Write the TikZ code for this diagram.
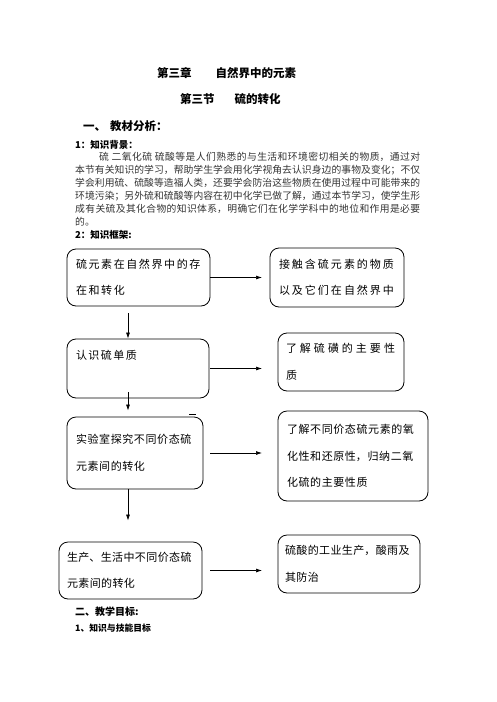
\documentclass[tikz,border=0pt]{standalone}
\usepackage{fontspec}
\setmainfont{Noto Sans CJK SC}
\usepackage{tikz}
\usetikzlibrary{arrows.meta}
\newcommand\zhbreak{\XeTeXlinebreaklocale "zh"\XeTeXlinebreakskip=0pt plus 1pt\relax}
\newcommand\zhgap[1]{\XeTeXlinebreaklocale "zh"\XeTeXlinebreakskip=#1pt\relax}

\tikzset{
  head/.style={inner sep=0pt, anchor=west, font=\bfseries\fontsize{#1}{#1}\selectfont},
  para/.style={inner sep=0pt, anchor=north west, text width=345pt, align=justify, text=black!80,
    font=\fontsize{9.8}{13}\selectfont\zhbreak},
  frame/.style={draw, line width=0.8pt, rounded corners=9pt, inner xsep=9pt, inner ysep=0pt, align=left,
    font=\fontsize{11}{26.5}\selectfont\zhgap{#1}},
  frame/.default=0.5,
  arr/.style={-{Latex[length=6pt,width=4pt]}, line width=0.7pt}
}

\begin{document}
\begin{tikzpicture}[x=1pt,y=-1pt]
\useasboundingbox (0,0) rectangle (496,702);
\node[head=11.5] (chapter) at (157,73) {第三章\hspace{24pt}自然界中的元素};
\node[head=11.5] (section) at (180,99) {第三节\hspace{20pt}硫的转化};
\node[head=11.5] (analysis) at (83,126) {一、\hspace{4pt}教材分析：};
\node[head=9.5] (background) at (75,145) {1：知识背景：};
\node[para] (text) at (75,152) {\hspace*{24pt}硫 二氧化硫 硫酸等是人们熟悉的与生活和环境密切相关的物质，通过对\linebreak
本节有关知识的学习，帮助学生学会用化学视角去认识身边的事物及变化；不仅\linebreak
学会利用硫、硫酸等造福人类，还要学会防治这些物质在使用过程中可能带来的\linebreak
环境污染；另外硫和硫酸等内容在初中化学已做了解，通过本节学习，使学生形\linebreak
成有关硫及其化合物的知识体系，明确它们在化学学科中的地位和作用是必要\linebreak
的。};
\node[head=9.5] (framework) at (75,235) {2：知识框架:};

% left column
\node[frame=1.6, text width=125pt, minimum height=57pt] (exist) at (138.5,277.5) {硫元素在自然界中的存\\在和转化};
\node[frame=1.5, text width=124pt, minimum height=59pt] (element) at (138,368.5) {认识硫单质\\\mbox{}};
\node[frame=0.6, text width=118pt, minimum height=72pt] (lab) at (135,453) {实验室探究不同价态硫\\元素间的转化};
\node[frame=0.4, inner xsep=8pt, text width=127pt, minimum height=57pt] (life) at (130.5,570.5) {生产、生活中不同价态硫\\元素间的转化};
\draw[line width=0.6pt] (189,414) -- (196,414);
% right column
\node[frame=2, text width=116pt, minimum height=59pt] (contact) at (337,277.5) {接触含硫元素的物质\\以及它们在自然界中};
\node[frame=3, inner xsep=8pt, text width=110pt, minimum height=58pt] (sulfur) at (341,362) {了解硫磺的主要性\\质};
\node[frame=0.6, text width=132pt, minimum height=90pt] (redox) at (353,456) {了解不同价态硫元素的氧\\化性和还原性，归纳二氧\\化硫的主要性质};
\node[frame=0.4, inner xsep=7pt, text width=128pt, minimum height=58pt] (acid) at (349,564) {硫酸的工业生产，酸雨及\\其防治};

\coordinate (spine) at (128,0);
\coordinate (exit) at (210,0);
\coordinate (gate) at (262,0);
\draw[arr, shorten <=7pt] (exist.south -| spine) -- (element.north -| spine);
\draw[arr, shorten <=-6pt, shorten >=6pt] (element.south -| spine) -- (lab.north -| spine);
\draw[arr, shorten >=21pt] (lab.south -| spine) -- (life.north -| spine);
\draw[arr] (exit |- exist.east) -- (gate |- exist.east);
\draw[arr] (exit |- element.east) -- (gate |- element.east);
\draw[arr] (exit |- lab.east) -- (gate |- lab.east);
\draw[arr] (exit |- life.east) -- (gate |- life.east);

\node[head=10] (goals) at (75,612) {二、教学目标:};
\node[head=8.8] (skills) at (75,628) {1、知识与技能目标};
\end{tikzpicture}
\end{document}
